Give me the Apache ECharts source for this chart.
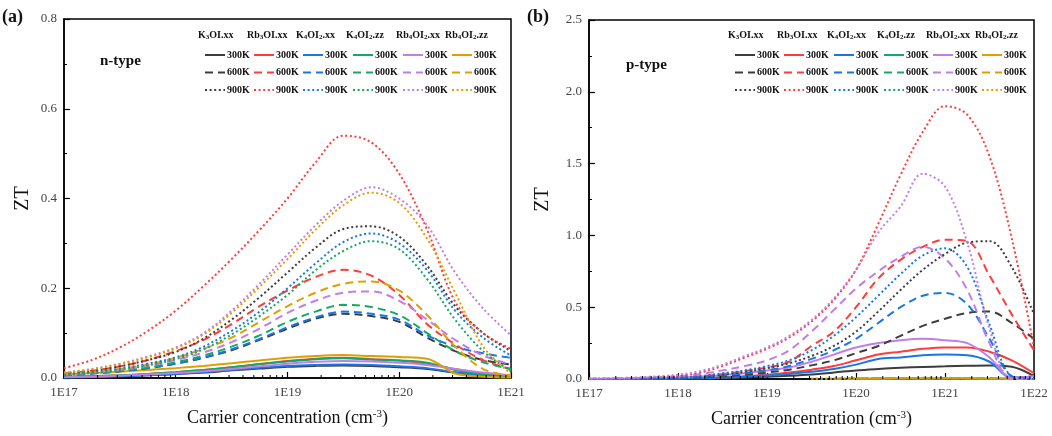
<!DOCTYPE html>
<html>
<head>
<meta charset="utf-8">
<script src="https://cdn.jsdelivr.net/npm/echarts@6/dist/echarts.min.js"></script>
<style>
  html, body { margin: 0; padding: 0; background: #fff; }
  #chart { width: 1052px; height: 436px; }
</style>
</head>
<body>
<div id="chart"></div>
<script>
// carrier concentration grid, as exponents of 10
const expN = [17, 17.25, 17.5, 17.75, 18, 18.25, 18.5, 18.75, 19, 19.25, 19.5, 19.75, 20, 20.25, 20.5, 20.75, 21]
const expP = [17, 17.25, 17.5, 17.75, 18, 18.25, 18.5, 18.75, 19, 19.25, 19.5, 19.75, 20, 20.25, 20.5, 20.75, 21, 21.25, 21.5, 21.75, 22]

const compounds = ['K3OI.xx', 'Rb3OI.xx', 'K4OI2.xx', 'K4OI2.zz', 'Rb4OI2.xx', 'Rb4OI2.zz']
const compoundLabels = ['K{s|3}OI.xx', 'Rb{s|3}OI.xx', 'K{s|4}OI{s|2}.xx', 'K{s|4}OI{s|2}.zz', 'Rb{s|4}OI{s|2}.xx', 'Rb{s|4}OI{s|2}.zz']
const colors = ['#3d3d3d', '#ff3b3b', '#1877e6', '#12a866', '#c27ee8', '#e19e00']
const temps = ['300K', '600K', '900K']
const yTicksN = ['0.0', '0.2', '0.4', '0.6', '0.8']
const yTicksP = ['0.0', '0.5', '1.0', '1.5', '2.0', '2.5']

// ---- n-type ZT ----
const nK3OI300 = [0.001, 0.002, 0.004, 0.006, 0.009, 0.012, 0.017, 0.021, 0.025, 0.027, 0.028, 0.027, 0.024, 0.02, 0.012, 0.006, 0.003]
const nK3OI600 = [0.006, 0.01, 0.015, 0.022, 0.032, 0.045, 0.062, 0.085, 0.11, 0.132, 0.143, 0.138, 0.125, 0.09, 0.06, 0.04, 0.03]
const nK3OI900 = [0.01, 0.016, 0.026, 0.04, 0.058, 0.088, 0.13, 0.18, 0.235, 0.29, 0.332, 0.338, 0.315, 0.25, 0.16, 0.1, 0.06]
const nRb3OI300 = [0.002, 0.004, 0.006, 0.009, 0.013, 0.018, 0.024, 0.031, 0.038, 0.043, 0.045, 0.042, 0.039, 0.032, 0.02, 0.01, 0.005]
const nRb3OI600 = [0.01, 0.016, 0.026, 0.04, 0.06, 0.085, 0.12, 0.16, 0.195, 0.225, 0.241, 0.228, 0.185, 0.12, 0.075, 0.04, 0.02]
const nRb3OI900 = [0.022, 0.04, 0.068, 0.105, 0.15, 0.205, 0.265, 0.33, 0.4, 0.48, 0.54, 0.525, 0.455, 0.33, 0.17, 0.1, 0.065]
const nK4OI2xx300 = [0.001, 0.002, 0.004, 0.006, 0.009, 0.013, 0.018, 0.023, 0.027, 0.029, 0.03, 0.029, 0.026, 0.022, 0.012, 0.005, 0.002]
const nK4OI2xx600 = [0.006, 0.01, 0.015, 0.022, 0.032, 0.046, 0.064, 0.087, 0.113, 0.135, 0.148, 0.143, 0.13, 0.095, 0.07, 0.055, 0.045]
const nK4OI2xx900 = [0.008, 0.013, 0.021, 0.032, 0.046, 0.07, 0.105, 0.148, 0.2, 0.255, 0.303, 0.322, 0.3, 0.24, 0.15, 0.09, 0.05]
const nK4OI2zz300 = [0.002, 0.004, 0.006, 0.009, 0.013, 0.018, 0.024, 0.031, 0.037, 0.042, 0.044, 0.041, 0.039, 0.034, 0.018, 0.008, 0.003]
const nK4OI2zz600 = [0.007, 0.011, 0.016, 0.024, 0.035, 0.05, 0.07, 0.095, 0.125, 0.148, 0.163, 0.158, 0.14, 0.1, 0.06, 0.035, 0.02]
const nK4OI2zz900 = [0.006, 0.011, 0.018, 0.028, 0.042, 0.064, 0.097, 0.138, 0.185, 0.24, 0.283, 0.305, 0.287, 0.22, 0.13, 0.06, 0.015]
const nRb4OI2xx300 = [0.002, 0.003, 0.005, 0.008, 0.011, 0.015, 0.02, 0.026, 0.032, 0.036, 0.038, 0.037, 0.034, 0.029, 0.02, 0.012, 0.006]
const nRb4OI2xx600 = [0.008, 0.012, 0.018, 0.027, 0.04, 0.057, 0.08, 0.11, 0.145, 0.172, 0.19, 0.193, 0.172, 0.13, 0.085, 0.05, 0.03]
const nRb4OI2xx900 = [0.012, 0.02, 0.032, 0.048, 0.068, 0.1, 0.15, 0.21, 0.275, 0.34, 0.395, 0.425, 0.4, 0.34, 0.235, 0.155, 0.095]
const nRb4OI2zz300 = [0.008, 0.011, 0.014, 0.018, 0.022, 0.027, 0.033, 0.039, 0.045, 0.049, 0.051, 0.049, 0.047, 0.043, 0.01, 0.003, 0.001]
const nRb4OI2zz600 = [0.008, 0.013, 0.02, 0.03, 0.045, 0.065, 0.09, 0.125, 0.16, 0.19, 0.21, 0.215, 0.195, 0.14, 0.07, 0.02, 0.005]
const nRb4OI2zz900 = [0.012, 0.019, 0.031, 0.046, 0.066, 0.097, 0.145, 0.203, 0.265, 0.33, 0.385, 0.413, 0.39, 0.31, 0.19, 0.07, 0.01]

// ---- p-type ZT (null: curve not visible there) ----
const pK3OI300 = [0, 0, 0, 0.001, 0.002, 0.004, 0.007, 0.011, 0.016, 0.023, 0.032, 0.045, 0.06, 0.07, 0.078, 0.084, 0.088, 0.092, 0.094, 0.085, 0.02]
const pK3OI600 = [0, 0, 0, 0.002, 0.005, 0.01, 0.018, 0.03, 0.045, 0.065, 0.095, 0.13, 0.18, 0.23, 0.3, 0.37, 0.42, 0.46, 0.47, 0.39, 0.28]
const pK3OI900 = [0, 0, 0, 0.003, 0.008, 0.015, 0.03, 0.05, 0.075, 0.11, 0.16, 0.23, 0.33, 0.47, 0.62, 0.76, 0.87, 0.95, 0.96, 0.78, 0.45]
const pRb3OI300 = [0, 0, 0.001, 0.003, 0.005, 0.008, 0.013, 0.02, 0.03, 0.045, 0.065, 0.09, 0.13, 0.17, 0.19, 0.21, 0.22, 0.22, 0.19, 0.13, 0.04]
const pRb3OI600 = [0, 0, 0.002, 0.005, 0.01, 0.02, 0.035, 0.055, 0.08, 0.12, 0.23, 0.33, 0.5, 0.7, 0.83, 0.92, 0.97, 0.96, 0.72, 0.45, 0.2]
const pRb3OI900 = [0, 0, 0.004, 0.01, 0.02, 0.045, 0.09, 0.15, 0.21, 0.29, 0.4, 0.55, 0.76, 1.08, 1.42, 1.72, 1.9, 1.84, 1.55, 0.98, 0.22]
const pK4OI2xx300 = [0, 0, 0.001, 0.002, 0.004, 0.006, 0.01, 0.016, 0.024, 0.035, 0.05, 0.07, 0.1, 0.14, 0.15, 0.165, 0.17, 0.165, 0.12, 0.01, 0.02]
const pK4OI2xx600 = [0, 0, 0.002, 0.004, 0.008, 0.014, 0.025, 0.04, 0.06, 0.09, 0.14, 0.2, 0.28, 0.39, 0.5, 0.58, 0.6, 0.52, 0.28, 0.02, 0]
const pK4OI2xx900 = [0, 0, 0.002, 0.005, 0.01, 0.02, 0.04, 0.06, 0.09, 0.13, 0.2, 0.3, 0.43, 0.58, 0.73, 0.86, 0.91, 0.78, 0.38, 0.02, 0]
const pK4OI2zz300 = [null, null, null, null, null, null, null, null, null, null, null, null, 0.001, 0.002, 0.003, 0.003, 0.003, 0.003, 0.002, 0.001, null]
const pK4OI2zz600 = [null, null, null, null, null, null, null, null, null, null, null, 0.001, 0.002, 0.003, 0.004, 0.005, 0.005, 0.004, 0.003, 0.001, null]
const pK4OI2zz900 = [null, null, null, null, null, null, null, null, null, null, 0.001, 0.002, 0.003, 0.004, 0.005, 0.006, 0.006, 0.005, 0.003, 0.001, null]
const pRb4OI2xx300 = [0.002, 0.003, 0.005, 0.008, 0.012, 0.018, 0.027, 0.04, 0.06, 0.08, 0.12, 0.17, 0.22, 0.25, 0.27, 0.28, 0.27, 0.25, 0.15, 0.01, 0.02]
const pRb4OI2xx600 = [0.002, 0.004, 0.007, 0.012, 0.02, 0.035, 0.06, 0.09, 0.13, 0.2, 0.33, 0.48, 0.63, 0.75, 0.85, 0.92, 0.84, 0.62, 0.25, 0, 0]
const pRb4OI2xx900 = [0.003, 0.006, 0.01, 0.018, 0.03, 0.055, 0.1, 0.16, 0.22, 0.3, 0.41, 0.56, 0.76, 1.02, 1.2, 1.43, 1.34, 0.95, 0.35, 0, 0]
const pRb4OI2zz300 = [null, null, null, null, null, null, null, null, null, null, null, null, 0.001, 0.002, 0.003, 0.004, 0.004, 0.003, 0.002, 0.001, null]
const pRb4OI2zz600 = [null, null, null, null, null, null, null, null, null, null, null, 0.001, 0.002, 0.004, 0.005, 0.006, 0.006, 0.005, 0.003, 0.001, null]
const pRb4OI2zz900 = [null, null, null, null, null, null, null, null, null, null, 0.001, 0.002, 0.004, 0.005, 0.007, 0.008, 0.008, 0.006, 0.004, 0.002, null]

const nData = [
  [nK3OI300, nK3OI600, nK3OI900],
  [nRb3OI300, nRb3OI600, nRb3OI900],
  [nK4OI2xx300, nK4OI2xx600, nK4OI2xx900],
  [nK4OI2zz300, nK4OI2zz600, nK4OI2zz900],
  [nRb4OI2xx300, nRb4OI2xx600, nRb4OI2xx900],
  [nRb4OI2zz300, nRb4OI2zz600, nRb4OI2zz900]
]
const pData = [
  [pK3OI300, pK3OI600, pK3OI900],
  [pRb3OI300, pRb3OI600, pRb3OI900],
  [pK4OI2xx300, pK4OI2xx600, pK4OI2xx900],
  [pK4OI2zz300, pK4OI2zz600, pK4OI2zz900],
  [pRb4OI2xx300, pRb4OI2xx600, pRb4OI2xx900],
  [pRb4OI2zz300, pRb4OI2zz600, pRb4OI2zz900]
]

const serif = "'Liberation Serif', 'Times New Roman', serif"
const lineTypes = ['solid', [8, 5], [2, 2.6]]

// log minor ticks 2..9 of every decade
function minorTicks(from, to) {
  const out = []
  for (let d = from; d < to; d++) {
    for (let m = 2; m <= 9; m++) out.push([m * Math.pow(10, d), 0])
  }
  return out
}

function buildLines(tag, data, exps, axis) {
  const xs = exps.map(e => Math.pow(10, e))
  const list = []
  data.forEach((group, c) => {
    group.forEach((vals, t) => {
      list.push({
        type: 'line',
        name: tag + '|' + compounds[c] + '|' + temps[t],
        xAxisIndex: axis,
        yAxisIndex: axis,
        data: xs.map((x, i) => [x, vals[i] === null ? '-' : vals[i]]),
        symbol: 'none',
        smooth: 0.35,
        z: 3 + t,
        itemStyle: { color: colors[c] },
        lineStyle: { color: colors[c], width: 2, type: lineTypes[t] }
      })
    })
  })
  list.push({
    type: 'custom',
    xAxisIndex: axis,
    yAxisIndex: axis,
    silent: true,
    z: 10,
    data: minorTicks(17, tag === 'n' ? 21 : 22),
    renderItem: (params, api) => {
      const p = api.coord([api.value(0), api.value(1)])
      return { type: 'line', shape: { x1: p[0], y1: p[1], x2: p[0], y2: p[1] - 3 }, style: { stroke: '#000', lineWidth: 1 } }
    }
  })
  return list
}

function buildLegends(tag, lefts) {
  return compounds.map((c, i) => ({
    orient: 'vertical',
    left: lefts[i],
    top: 45,
    itemWidth: 20,
    itemHeight: 12,
    itemGap: 7.5,
    selectedMode: false,
    itemStyle: { opacity: 0 },
    data: temps.map(t => tag + '|' + c + '|' + t),
    formatter: name => name.split('|')[2],
    textStyle: { fontFamily: serif, fontWeight: 'bold', fontSize: 10, color: '#111', padding: [0, 0, 0, -3] }
  }))
}

function headers(lefts) {
  return compoundLabels.map((label, i) => ({
    type: 'text',
    left: lefts[i] - 1,
    top: 30,
    style: {
      text: label,
      font: 'bold 10px ' + serif,
      fill: '#111',
      rich: { s: { fontSize: 7, fontWeight: 'bold', fontFamily: serif, verticalAlign: 'bottom', padding: [5, 0, 0, 0] } }
    }
  }))
}

function xAxis(idx, max) {
  return {
    type: 'log',
    logBase: 10,
    gridIndex: idx,
    min: 1e17,
    max: max,
    name: 'Carrier concentration (cm{sup|-3})',
    nameLocation: 'middle',
    nameGap: 31,
    nameTextStyle: {
      fontFamily: serif, fontSize: 18, color: '#111',
      rich: { sup: { fontSize: 11, fontFamily: serif, verticalAlign: 'top', padding: [0, 0, 8, 0] } }
    },
    axisLine: { lineStyle: { color: '#000', width: 1.5 } },
    axisTick: { inside: true, length: 6, lineStyle: { color: '#000', width: 1.2 } },
    splitLine: { show: false },
    axisLabel: {
      fontFamily: serif, fontSize: 13, color: '#444', margin: 8,
      formatter: v => '1E' + Math.round(Math.log10(v))
    }
  }
}

function yAxis(idx, max, interval, ticks) {
  return {
    type: 'value',
    gridIndex: idx,
    min: 0,
    max: max,
    interval: interval,
    name: 'ZT',
    nameLocation: 'middle',
    nameGap: idx === 0 ? 31 : 36,
    nameTextStyle: { fontFamily: serif, fontSize: 20, color: '#111' },
    axisLine: { show: true, lineStyle: { color: '#000', width: 1.5 } },
    axisTick: { inside: true, length: 6, lineStyle: { color: '#000', width: 1.2 } },
    minorTick: { show: true, splitNumber: 2, length: 3, lineStyle: { color: '#000', width: 1 } },
    splitLine: { show: false },
    axisLabel: {
      fontFamily: serif, fontSize: 13, color: '#444', margin: 7,
      formatter: v => ticks[Math.round(v / interval)]
    }
  }
}

const legendLeftN = [199, 248, 297, 347, 397, 446]
const legendLeftP = [729, 778, 828, 878, 927, 976]

const option = {
  animation: false,
  backgroundColor: '#fff',
  grid: [
    { left: 64, right: 541, top: 19, bottom: 58, show: true, borderColor: '#000', borderWidth: 1.5, containLabel: false },
    { left: 589, right: 18, top: 20, bottom: 57, show: true, borderColor: '#000', borderWidth: 1.5, containLabel: false }
  ],
  xAxis: [xAxis(0, 1e21), xAxis(1, 1e22)],
  yAxis: [yAxis(0, 0.8, 0.2, yTicksN), yAxis(1, 2.5, 0.5, yTicksP)],
  legend: buildLegends('n', legendLeftN).concat(buildLegends('p', legendLeftP)),
  graphic: headers(legendLeftN).concat(headers(legendLeftP)).concat([
    { type: 'text', left: 2, top: 8, style: { text: '(a)', font: 'bold 18px ' + serif, fill: '#111' } },
    { type: 'text', left: 527, top: 8, style: { text: '(b)', font: 'bold 18px ' + serif, fill: '#111' } },
    { type: 'text', left: 100, top: 54, style: { text: 'n-type', font: 'bold 15px ' + serif, fill: '#111' } },
    { type: 'text', left: 626, top: 58, style: { text: 'p-type', font: 'bold 15px ' + serif, fill: '#111' } }
  ]),
  series: buildLines('n', nData, expN, 0).concat(buildLines('p', pData, expP, 1))
}

const chart = echarts.init(document.getElementById('chart'))
chart.setOption(option)
window.addEventListener('resize', () => {
  chart.resize()
})
</script>
</body>
</html>
